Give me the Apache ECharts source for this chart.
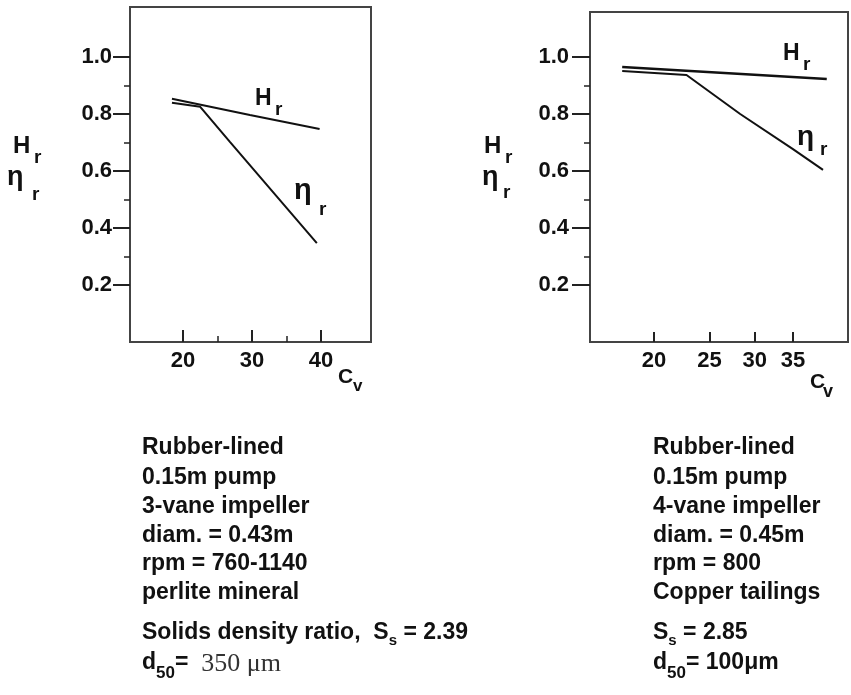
<!DOCTYPE html>
<html>
<head>
<meta charset="utf-8">
<script src="https://cdn.jsdelivr.net/npm/echarts@6/dist/echarts.min.js"></script>
<style>
html, body { margin: 0; padding: 0; background: #fff; }
#chart { width: 851px; height: 695px; }
</style>
</head>
<body>
<div id="chart"></div>
<script>
// left panel - perlite, 3-vane impeller
var leftCvH = [18.4, 29.7, 39.8];
var leftH = [0.853, 0.796, 0.747];
var leftCvEta = [18.4, 22.5, 26.8, 39.4];
var leftEta = [0.839, 0.825, 0.702, 0.347];

// right panel - copper tailings, 4-vane impeller
var rightCvH = [17.6, 40.1];
var rightH = [0.965, 0.923];
var rightCvEta = [17.6, 22.8, 28.3, 35, 39.5];
var rightEta = [0.951, 0.937, 0.800, 0.677, 0.604];

// ticks
var yTicks = [0.2, 0.4, 0.6, 0.8, 1.0];
var yMinor = [0.3, 0.5, 0.7, 0.9];
var leftXTicks = [20, 30, 40];
var leftXMinor = [25, 35];
var rightXTicks = [20, 25, 30, 35];

// notes under the charts
var leftNotes = [
	'{a|Rubber-lined}',
	'{a|0.15m pump}',
	'{a|3-vane impeller}',
	'{a|diam. = 0.43m}',
	'{a|rpm = 760-1140}',
	'{a|perlite mineral}',
	'{a|Solids density ratio,  S}{s|s}{a| = 2.39}',
	'{a|d}{d|50}{a|= }{t| 350 μm}'
];
var rightNotes = [
	'{a|Rubber-lined}',
	'{a|0.15m pump}',
	'{a|4-vane impeller}',
	'{a|diam. = 0.45m}',
	'{a|rpm = 800}',
	'{a|Copper tailings}',
	'{a|S}{s|s}{a| = 2.85}',
	'{a|d}{d|50}{a|= 100μm}'
];
var noteRows = [449, 479, 508, 537, 565, 594, 634, 664];

var FONT = 'Liberation Sans';
var INK = '#111';

function extend(a, b) {
	for (var k in b) {
		a[k] = b[k];
	}
	return a;
}

function pairs(xs, ys) {
	var out = [];
	for (var i = 0; i < xs.length; i++) {
		out.push([xs[i], ys[i]]);
	}
	return out;
}

function txt(x, y, str, size, family, weight) {
	return {
		type : 'text',
		silent : true,
		style : {
			text : str,
			x : x,
			y : y,
			fontSize : size,
			fontFamily : family || FONT,
			fontWeight : weight || 'bold',
			fill : INK,
			align : 'left',
			textAlign : 'left',
			verticalAlign : 'middle',
			textVerticalAlign : 'middle'
		}
	};
}

// main letter + subscript
function sym(x, y, main, sub, subDx, subDy, size, subSize) {
	return [ txt(x, y, main, size), txt(x + subDx, y + subDy, sub, subSize) ];
}

var noteRich = {
	a : { fontSize : 23, fontFamily : FONT, fontWeight : 'bold', lineHeight : 26, verticalAlign : 'top' },
	s : { fontSize : 15, fontFamily : FONT, fontWeight : 'bold', lineHeight : 40, verticalAlign : 'middle' },
	d : { fontSize : 17, fontFamily : FONT, fontWeight : 'bold', lineHeight : 45, verticalAlign : 'middle' },
	t : { fontSize : 26, fontFamily : 'Liberation Serif', fontWeight : 'normal', lineHeight : 26, verticalAlign : 'top', fill : '#333' }
};

function notes(x, list) {
	var els = [];
	for (var i = 0; i < list.length; i++) {
		els.push({
			type : 'text',
			silent : true,
			style : {
				text : list[i],
				x : x,
				y : noteRows[i] - 13,
				fill : INK,
				align : 'left',
				textAlign : 'left',
				verticalAlign : 'top',
				textVerticalAlign : 'top',
				rich : noteRich
			}
		});
	}
	return els;
}

var tickLabel = {
	color : INK,
	fontSize : 22,
	fontWeight : 'bold',
	fontFamily : FONT
};

function xMajor(grid, type, min, max, ticks, len) {
	return {
		gridIndex : grid,
		type : type,
		logBase : 10,
		min : min,
		max : max,
		position : 'bottom',
		axisLine : { onZero : false, lineStyle : { color : '#444', width : 2 } },
		axisTick : { customValues : ticks, inside : true, length : len, lineStyle : { color : '#222', width : 2 } },
		axisLabel : extend({ customValues : ticks, margin : 8 }, tickLabel),
		splitLine : { show : false },
		minorTick : { show : false },
		minorSplitLine : { show : false }
	};
}

function xMinor(grid, min, max, ticks) {
	return {
		gridIndex : grid,
		type : 'value',
		min : min,
		max : max,
		position : 'bottom',
		axisLine : { show : false, onZero : false },
		axisTick : { customValues : ticks, inside : true, length : 6, lineStyle : { color : '#222', width : 1.5 } },
		axisLabel : { show : false },
		splitLine : { show : false }
	};
}

function yMajor(grid, max, len, margin) {
	return {
		gridIndex : grid,
		type : 'value',
		min : 0,
		max : max,
		position : 'left',
		axisLine : { onZero : false, lineStyle : { color : '#444', width : 2 } },
		axisTick : { customValues : yTicks, length : len, lineStyle : { color : '#222', width : 2 } },
		axisLabel : extend({
			customValues : yTicks,
			margin : margin,
			formatter : function(v) { return v.toFixed(1); }
		}, tickLabel),
		splitLine : { show : false }
	};
}

function yMinorAxis(grid, max) {
	return {
		gridIndex : grid,
		type : 'value',
		min : 0,
		max : max,
		position : 'left',
		axisLine : { show : false, onZero : false },
		axisTick : { customValues : yMinor, length : 6, lineStyle : { color : '#222', width : 1.5 } },
		axisLabel : { show : false },
		splitLine : { show : false }
	};
}

function curve(xi, yi, data, width) {
	return {
		type : 'line',
		xAxisIndex : xi,
		yAxisIndex : yi,
		data : data,
		symbol : 'none',
		silent : true,
		lineStyle : { color : INK, width : width }
	};
}

function boxGrid(pos) {
	return extend(pos, { show : true, borderColor : '#444', borderWidth : 2, backgroundColor : 'transparent', containLabel : false, outerBoundsMode : 'none' });
}

var graphics = [];
graphics = graphics.concat(
	// axis titles
	sym(13, 146, 'H', 'r', 21, 12, 24, 19),
	sym(7, 178, 'η', 'r', 25, 17, 27, 19),
	sym(484, 146, 'H', 'r', 21, 12, 24, 19),
	sym(482, 178, 'η', 'r', 21, 15, 27, 19),
	// curve labels
	sym(255, 99, 'H', 'r', 20, 11, 23, 19),
	sym(294, 191, 'η', 'r', 25, 19, 29, 19),
	sym(783, 54, 'H', 'r', 20, 11, 23, 19),
	sym(797, 137, 'η', 'r', 23, 13, 28, 19),
	sym(338, 377, 'C', 'v', 15, 9, 21, 17),
	sym(810, 382, 'C', 'v', 13, 10, 21, 18),
	notes(142, leftNotes),
	notes(653, rightNotes)
);

var option = {
	animation : false,
	backgroundColor : '#fff',
	grid : [
		boxGrid({ left : 130, top : 7, width : 241, height : 335 }),
		boxGrid({ left : 590, top : 12, width : 258, height : 330 })
	],
	xAxis : [
		xMajor(0, 'value', 12.32, 47.25, leftXTicks, 12),
		xMinor(0, 12.32, 47.25, leftXMinor),
		xMajor(1, 'log', 15.46, 43.68, rightXTicks, 10)
	],
	yAxis : [
		yMajor(0, 1.175, 17, 18),
		yMinorAxis(0, 1.175),
		yMajor(1, 1.158, 18, 21),
		yMinorAxis(1, 1.158)
	],
	series : [
		curve(0, 0, pairs(leftCvH, leftH), 2),
		curve(0, 0, pairs(leftCvEta, leftEta), 2),
		curve(2, 2, pairs(rightCvH, rightH), 2.5),
		curve(2, 2, pairs(rightCvEta, rightEta), 2)
	],
	graphic : graphics
};

var myChart = echarts.init(document.getElementById('chart'));
myChart.setOption(option, true);
</script>
</body>
</html>
